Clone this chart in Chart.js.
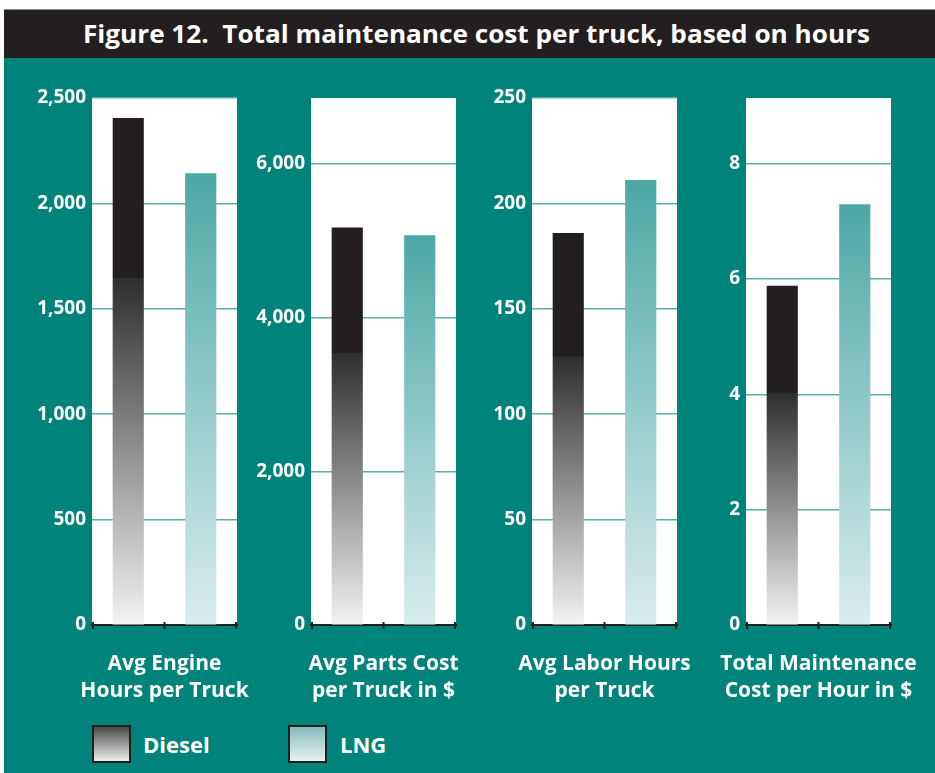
<!DOCTYPE html>
<html>
<head>
<meta charset="utf-8">
<script src="https://cdn.jsdelivr.net/npm/chart.js@4/dist/chart.umd.min.js"></script>
<style>
  html, body { margin: 0; padding: 0; background: #ffffff; }
  body { width: 935px; height: 773px; position: relative; overflow: hidden; font-family: 'Open Sans', sans-serif; }
  #frame { position: absolute; left: 4px; top: 9px; width: 931px; height: 764px; background: #00837a; }
  #band { position: absolute; left: 4px; top: 9px; width: 931px; height: 49px; background: #231f20; border-top: 1px solid #8a8a8a; box-sizing: border-box; }
  #title { position: absolute; left: 83px; top: 21px; font-size: 25px; line-height: 25px; font-weight: 700; color: #ffffff; white-space: nowrap; transform-origin: 0 0; }
  .panel { position: absolute; top: 78px; width: 240px; height: 625px; }
  .legbox { position: absolute; top: 725px; width: 39px; height: 38px; box-sizing: border-box; border: 2px solid #231f20; }
  .legtxt { position: absolute; top: 733px; font-size: 22px; line-height: 22px; font-weight: 700; color: #ffffff; white-space: nowrap; }
</style>
</head>
<body>
<div id="frame"></div>
<div id="band"></div>
<div id="title">Figure 12.&nbsp; Total maintenance cost per truck, based on hours</div>

<div class="panel" style="left:32px"><canvas id="c0" width="240" height="625"></canvas></div>
<div class="panel" style="left:251px"><canvas id="c1" width="240" height="625"></canvas></div>
<div class="panel" style="left:472px"><canvas id="c2" width="240" height="625"></canvas></div>
<div class="panel" style="left:686px"><canvas id="c3" width="240" height="625"></canvas></div>

<div class="legbox" style="left:92px; background: linear-gradient(#4a4a4a, #ececec);"></div>
<div class="legtxt" style="left:143px">Diesel</div>
<div class="legbox" style="left:288px; background: linear-gradient(#86bcbb, #e4f1f0);"></div>
<div class="legtxt" style="left:340px">LNG</div>

<script>
// ---- data ----
const categories = ['Diesel', 'LNG'];
const engineHoursPerTruck = [2403, 2142];
const partsCostPerTruck = [5170, 5068];
const laborHoursPerTruck = [185.8, 210.9];
const costPerHour = [5.88, 7.29];
const panelTitles = [
  ['Avg Engine', 'Hours per Truck'],
  ['Avg Parts Cost', 'per Truck in $'],
  ['Avg Labor Hours', 'per Truck'],
  ['Total Maintenance', 'Cost per Hour in $']
];
const axisMax = [2500, 6860, 250, 9.14];
const axisStep = [500, 2000, 50, 2];

// ---- title fit ----
(function () {
  const t = document.getElementById('title');
  const w = t.getBoundingClientRect().width;
  t.style.transform = 'scaleX(' + (787 / w) + ')';
})();

Chart.defaults.font.family = "'Open Sans', sans-serif";

const plotBg = {
  id: 'plotBg',
  beforeDraw(chart) {
    const { ctx, chartArea: a } = chart;
    ctx.save();
    ctx.fillStyle = '#ffffff';
    ctx.fillRect(a.left, a.top, a.right - a.left, a.bottom - a.top);
    ctx.restore();
  }
};

const panelTitle = {
  id: 'panelTitle',
  afterDraw(chart, args, opts) {
    const { ctx, chartArea: a } = chart;
    const cx = (a.left + a.right) / 2;
    ctx.save();
    ctx.fillStyle = '#ffffff';
    ctx.font = "bold 21px 'Open Sans'";
    ctx.textAlign = 'center';
    ctx.textBaseline = 'alphabetic';
    (opts.lines || []).forEach((t, k) => ctx.fillText(t, cx, a.bottom + 45 + 27 * k));
    // tick marks crossing the axis line at category boundaries
    const xs = chart.scales.x;
    ctx.strokeStyle = '#231f20';
    ctx.lineWidth = 2;
    [a.left + 1, (a.left + a.right) / 2, a.right - 1].forEach(x => {
      ctx.beginPath();
      ctx.moveTo(x, a.bottom - 3);
      ctx.lineTo(x, a.bottom + 4);
      ctx.stroke();
    });
    ctx.restore();
  }
};

function barFill(context) {
  const chart = context.chart;
  if (!chart.chartArea) return '#231f20';
  const y = chart.scales.y;
  const top = y.getPixelForValue(context.raw);
  const bot = y.getPixelForValue(0);
  const g = chart.ctx.createLinearGradient(0, bot, 0, top);
  if (context.dataIndex === 0) {
    g.addColorStop(0, '#f3f3f3');
    g.addColorStop(0.685, '#2e2e2e');
    g.addColorStop(0.686, '#231f20');
    g.addColorStop(1, '#231f20');
  } else {
    g.addColorStop(0, '#d9eded');
    g.addColorStop(1, '#4ca8a4');
  }
  return g;
}

const series = [engineHoursPerTruck, partsCostPerTruck, laborHoursPerTruck, costPerHour];

series.forEach((vals, i) => {
  const step = axisStep[i];
  const max = axisMax[i];
  new Chart(document.getElementById('c' + i), {
    type: 'bar',
    data: {
      labels: categories,
      datasets: [{ data: vals, backgroundColor: barFill, borderWidth: 0, barThickness: 30.5 }]
    },
    plugins: [plotBg, panelTitle],
    options: {
      responsive: false,
      animation: false,
      layout: { padding: { top: 20, right: 35, bottom: 0, left: 0 } },
      plugins: {
        legend: { display: false },
        tooltip: { enabled: false },
        panelTitle: { lines: panelTitles[i] }
      },
      scales: {
        x: {
          type: 'category',
          offset: true,
          grid: { offset: true, drawOnChartArea: false, drawTicks: false, color: '#231f20', lineWidth: 2 },
          border: { display: true, color: '#231f20', width: 2 },
          ticks: { display: false },
          title: { display: false },
          afterFit: s => { s.height = 78; }
        },
        y: {
          min: 0,
          max: max,
          ticks: {
            color: '#ffffff',
            font: { size: 19, weight: 'bold' },
            padding: 6,
            callback: v => Number(v).toLocaleString('en-US')
          },
          afterBuildTicks: s => {
            const t = [];
            for (let k = 0; k * step <= max + 1e-9; k++) t.push({ value: k * step });
            s.ticks = t;
          },
          grid: { color: '#5aaea9', lineWidth: 1.5, drawTicks: false },
          border: { display: false },
          afterFit: s => { s.width = 60; }
        }
      }
    }
  });
});
</script>
</body>
</html>
